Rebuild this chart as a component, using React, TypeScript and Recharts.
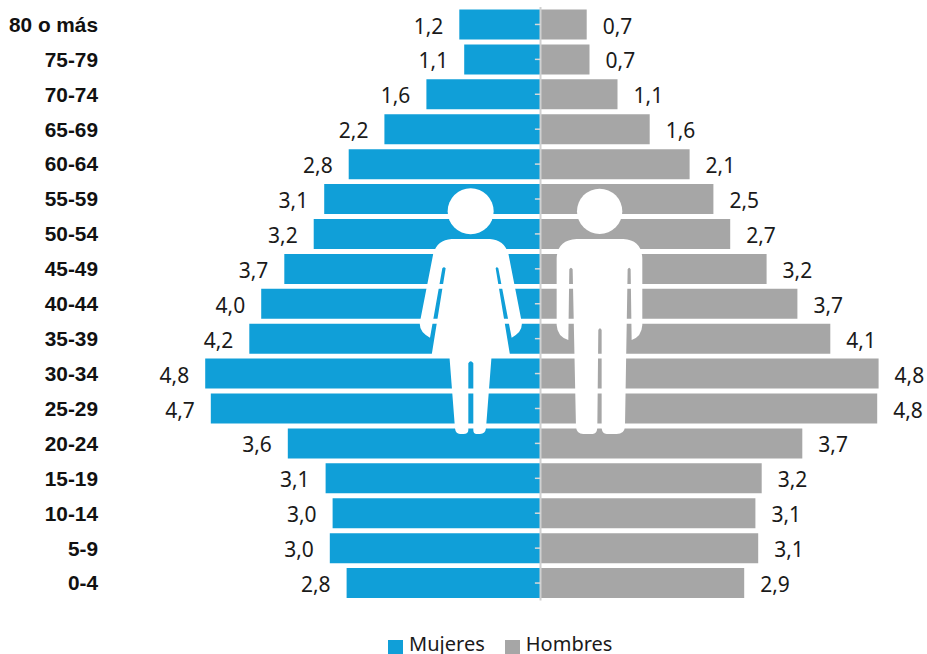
import React from 'react';
import { BarChart, Bar, XAxis, YAxis, Legend, LabelList, ReferenceLine } from 'recharts';

const ageGroups = ['80 o más', '75-79', '70-74', '65-69', '60-64', '55-59', '50-54', '45-49', '40-44', '35-39', '30-34', '25-29', '20-24', '15-19', '10-14', '5-9', '0-4'];
const womenValues = [1.16, 1.09, 1.63, 2.23, 2.74, 3.09, 3.24, 3.66, 3.99, 4.16, 4.79, 4.71, 3.61, 3.07, 2.97, 3.01, 2.77];
const menValues = [0.66, 0.7, 1.1, 1.56, 2.13, 2.47, 2.71, 3.23, 3.67, 4.14, 4.83, 4.81, 3.74, 3.16, 3.07, 3.11, 2.91];
const womenLabels = ['1,2', '1,1', '1,6', '2,2', '2,8', '3,1', '3,2', '3,7', '4,0', '4,2', '4,8', '4,7', '3,6', '3,1', '3,0', '3,0', '2,8'];
const menLabels = ['0,7', '0,7', '1,1', '1,6', '2,1', '2,5', '2,7', '3,2', '3,7', '4,1', '4,8', '4,8', '3,7', '3,2', '3,1', '3,1', '2,9'];

const data = ageGroups.map((age, i) => ({
  age,
  Mujeres: -womenValues[i],
  Hombres: menValues[i],
  womenLabel: womenLabels[i],
  menLabel: menLabels[i],
}));

const BLUE = '#109fd8';
const GREY = '#a6a6a6';
const VALUE_FONT = '"Noto Sans", sans-serif';

const BarValue = (props: any) => {
  const { x, y, width, height, value, side } = props;
  const left = Math.min(x, x + width);
  const right = Math.max(x, x + width);
  return (
    <text
      x={side === 'left' ? left - 16 : right + 16}
      y={y + height / 2 + 9}
      textAnchor={side === 'left' ? 'end' : 'start'}
      fontFamily={VALUE_FONT}
      fontSize={21}
      fill="#1a1a1a"
    >
      {value}
    </text>
  );
};

const WOMAN_BODY = 'M215 207 L330 207 Q372 210 385 250 L425 455 Q430 485 395 503 L355 295 Q350 288 347 295 L390 555 L335 555 L318 775 Q316 792 300 792 L290 792 Q280 792 280 780 L280 580 Q272 568 265 580 L265 780 Q265 792 250 792 L240 792 Q227 792 225 775 L208 555 L155 555 L197 295 Q192 288 187 295 L150 503 Q115 485 120 455 L160 250 Q172 210 215 207 Z';
const MAN_BODY = 'M590 207 L730 207 Q785 210 787 265 L787 465 Q785 500 755 510 L752 298 Q748 288 743 298 L735 770 Q733 792 710 792 L680 792 Q667 792 665 775 L665 480 Q660 470 655 480 L652 775 Q650 792 638 792 L610 792 Q590 792 588 770 L578 298 Q573 288 568 298 L565 510 Q532 500 530 465 L530 265 Q532 210 590 207 Z';

const Figures = () => (
  <svg width={927} height={654} style={{ position: 'absolute', left: 0, top: 0, pointerEvents: 'none' }}>
    <g transform="translate(380 170) scale(0.3333)" fill="#fff">
      <circle cx={272} cy={124} r={69} />
      <path d={WOMAN_BODY} />
      <circle cx={659} cy={124} r={68} />
      <path d={MAN_BODY} />
    </g>
  </svg>
);

export default function App() {
  return (
    <div style={{ position: 'absolute', left: 0, top: 0, width: 927, height: 654, overflow: 'hidden' }}>
      <BarChart
        width={927}
        height={654}
        data={data}
        layout="vertical"
        stackOffset="sign"
        barCategoryGap={2.5}
        margin={{ top: 7, right: 36.5, bottom: 26.5, left: 0 }}
      >
        <XAxis type="number" hide domain={[-6.293, 5]} allowDataOverflow />
        <YAxis
          type="category"
          dataKey="age"
          width={100}
          interval={0}
          axisLine={false}
          tickLine={false}
          tickSize={0}
          tickMargin={2}
          tick={{ fontFamily: '"Liberation Sans", Arial, sans-serif', fontSize: 20.8, fontWeight: 700, fill: '#111' }}
        />
        <Bar dataKey="Mujeres" stackId="a" fill={BLUE} isAnimationActive={false}>
          <LabelList dataKey="womenLabel" content={(p: any) => <BarValue {...p} side="left" />} />
        </Bar>
        <Bar dataKey="Hombres" stackId="a" fill={GREY} isAnimationActive={false}>
          <LabelList dataKey="menLabel" content={(p: any) => <BarValue {...p} side="right" />} />
        </Bar>
        <ReferenceLine x={0} stroke="#d0d0d0" strokeWidth={2} />
        {ageGroups.map((age) => (
          <ReferenceLine
            key={age}
            segment={[{ x: -0.08, y: age }, { x: 0, y: age }]}
            stroke="#d9d9d9"
            strokeWidth={1.5}
          />
        ))}
        <Legend
          verticalAlign="bottom"
          iconType="square"
          iconSize={15}
          itemSorter={null}
          wrapperStyle={{ top: 630, left: 65 }}
          formatter={(value) => (
            <span style={{ color: '#1a1a1a', fontFamily: VALUE_FONT, fontSize: 20, marginLeft: 2, marginRight: 10 }}>{value}</span>
          )}
        />
      </BarChart>
      <Figures />
    </div>
  );
}
